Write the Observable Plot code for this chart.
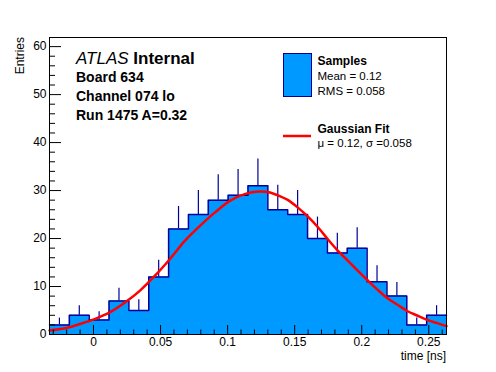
<!DOCTYPE html>
<html><head><meta charset="utf-8">
<script src="https://cdn.jsdelivr.net/npm/d3@7"></script>
<script src="https://cdn.jsdelivr.net/npm/@observablehq/plot@0.6"></script>
<style>body{margin:0;background:#fff;} svg{display:block}</style>
</head><body><div id="chart"></div>
<script>
// ---- data ----
const binEdges = [-0.0328, -0.0180, -0.0032, 0.0116, 0.0264, 0.0412, 0.0560, 0.0708, 0.0856, 0.1004, 0.1152,
                  0.1300, 0.1448, 0.1596, 0.1744, 0.1892, 0.2040, 0.2188, 0.2336, 0.2484, 0.2632];
const counts = [2, 4, 3, 7, 5, 12, 22, 25, 28, 29, 31, 26, 25, 20, 17, 18, 11, 8, 2, 4];
const fitX = [-0.0328, -0.0211, -0.0099, 0.0013, 0.0125, 0.0237, 0.0349, 0.0460, 0.0572, 0.0684, 0.0796, 0.0908,
              0.1020, 0.1132, 0.1231, 0.1299, 0.1393, 0.1448, 0.1522, 0.1597, 0.1672, 0.1746, 0.1821, 0.1896,
              0.1970, 0.2045, 0.2119, 0.2190, 0.2264, 0.2339, 0.2413, 0.2488, 0.2563, 0.2632];
const fitY = [0.85, 1.3, 2.2, 3.26, 4.65, 6.7, 9.2, 12.3, 15.8, 19.6, 22.7, 25.5,
              27.9, 29.3, 29.8, 29.7, 28.8, 28.05, 26.5, 24.6, 22.4, 19.9, 17.5, 15.4,
              13.3, 11.25, 9.3, 7.6, 6.25, 4.9, 3.96, 3.05, 2.36, 1.74];
const xDomain = [-0.0328, 0.2632];
const yDomain = [0, 61.9];
const xMajorTicks = [0, 0.05, 0.1, 0.15, 0.2, 0.25];
const xTickLabels = ["0", "0.05", "0.1", "0.15", "0.2", "0.25"];
const xMinorTicks = [-0.03, -0.02, -0.01, 0.01, 0.02, 0.03, 0.04, 0.06, 0.07, 0.08, 0.09, 0.11, 0.12, 0.13, 0.14,
                     0.16, 0.17, 0.18, 0.19, 0.21, 0.22, 0.23, 0.24, 0.26];
const yMajorTicks = [0, 10, 20, 30, 40, 50, 60];
const yTickLabels = ["0", "10", "20", "30", "40", "50", "60"];
const yMinorTicks = [2, 4, 6, 8, 12, 14, 16, 18, 22, 24, 26, 28, 32, 34, 36, 38, 42, 44, 46, 48, 52, 54, 56, 58];
const xLabel = "time [ns]";
const yLabel = "Entries";
const atlasWords = ["ATLAS", "Internal"];
const infoLines = ["Board 634", "Channel 074 lo", "Run 1475 A=0.32"];
const legendSamples = ["Samples", "Mean = 0.12", "RMS = 0.058"];
const legendFit = ["Gaussian Fit", "μ = 0.12, σ =0.058"];

// ---- layout ----
const W = 496, H = 372, ML = 49, MR = 50, MT = 37, MB = 38;
const PW = W - ML - MR, PH = H - MT - MB;
const FILL = "#0099ff", EDGE = "#000099", FIT = "#ff0000";
const FONT = "'Liberation Sans', Arial, Helvetica, sans-serif";

const bins = counts.map((c, i) => ({xc: (binEdges[i] + binEdges[i + 1]) / 2, count: c, top: c + Math.sqrt(c)}));
const stepPts = binEdges.map((e, i) => ({x: e, y: counts[Math.min(i, counts.length - 1)]}));
const fit = fitX.map((x, i) => ({x, y: fitY[i]}));

const svg = Plot.plot({
  width: W, height: H,
  marginLeft: ML, marginRight: MR, marginTop: MT, marginBottom: MB,
  style: {fontFamily: FONT, background: "white", color: "black"},
  x: {domain: xDomain},
  y: {domain: yDomain},
  marks: [
    Plot.areaY(stepPts, {x: "x", y: "y", curve: "step-after", fill: FILL}),
    Plot.line(stepPts, {x: "x", y: "y", curve: "step-after", stroke: EDGE, strokeWidth: 1.5}),
    Plot.ruleX(bins, {x: "xc", y1: "count", y2: "top", stroke: EDGE, strokeWidth: 1.2}),
    Plot.line(fit, {x: "x", y: "y", curve: "catmull-rom", stroke: FIT, strokeWidth: 2.5}),
    Plot.frame({stroke: "black", strokeWidth: 1}),
    Plot.tickY(yMajorTicks, {y: d => d, insetRight: PW - 12, stroke: "black"}),
    Plot.tickY(yMinorTicks, {y: d => d, insetRight: PW - 6, stroke: "black"}),
    Plot.tickX(xMajorTicks, {x: d => d, insetTop: PH - 9, stroke: "black"}),
    Plot.tickX(xMinorTicks, {x: d => d, insetTop: PH - 4.5, stroke: "black"}),
    Plot.axisX(xMajorTicks, {tickSize: 0, tickPadding: 3, fontSize: 12, label: null,
      tickFormat: d => xTickLabels[xMajorTicks.indexOf(d)]}),
    Plot.axisY(yMajorTicks, {tickSize: 0, tickPadding: 3, fontSize: 12, label: null,
      tickFormat: d => yTickLabels[yMajorTicks.indexOf(d)]})
  ]
});
document.getElementById("chart").appendChild(svg);

const s = d3.select(svg);
const g = s.append("g").attr("font-family", FONT).attr("fill", "black").attr("text-anchor", "start");
// axis titles
g.append("text").attr("x", 446).attr("y", 360).attr("text-anchor", "end").attr("font-size", 12).text(xLabel);
g.append("text").attr("transform", "translate(24,37) rotate(-90)").attr("text-anchor", "end").attr("font-size", 12).text(yLabel);
// ATLAS label
const t = g.append("text").attr("x", 76).attr("y", 63.5).attr("font-size", 17);
t.append("tspan").attr("font-style", "italic").text(atlasWords[0]);
t.append("tspan").attr("font-weight", "bold").text(" " + atlasWords[1]);
infoLines.forEach((line, i) => {
  g.append("text").attr("x", 76).attr("y", 82 + i * 19).attr("font-size", 14).attr("font-weight", "bold").text(line);
});
// legend
g.append("rect").attr("x", 283.5).attr("y", 53.5).attr("width", 28).attr("height", 43)
  .attr("fill", FILL).attr("stroke", EDGE).attr("stroke-width", 1);
g.append("text").attr("x", 317.5).attr("y", 65).attr("font-size", 12).attr("font-weight", "bold").text(legendSamples[0]);
g.append("text").attr("x", 317.5).attr("y", 80).attr("font-size", 11.5).text(legendSamples[1]);
g.append("text").attr("x", 317.5).attr("y", 94.5).attr("font-size", 11.5).text(legendSamples[2]);
g.append("line").attr("x1", 283).attr("x2", 311).attr("y1", 136).attr("y2", 136).attr("stroke", FIT).attr("stroke-width", 2.5);
g.append("text").attr("x", 317.5).attr("y", 133).attr("font-size", 12).attr("font-weight", "bold").text(legendFit[0]);
g.append("text").attr("x", 317.5).attr("y", 146.5).attr("font-size", 11.5).text(legendFit[1]);
</script>
</body></html>
